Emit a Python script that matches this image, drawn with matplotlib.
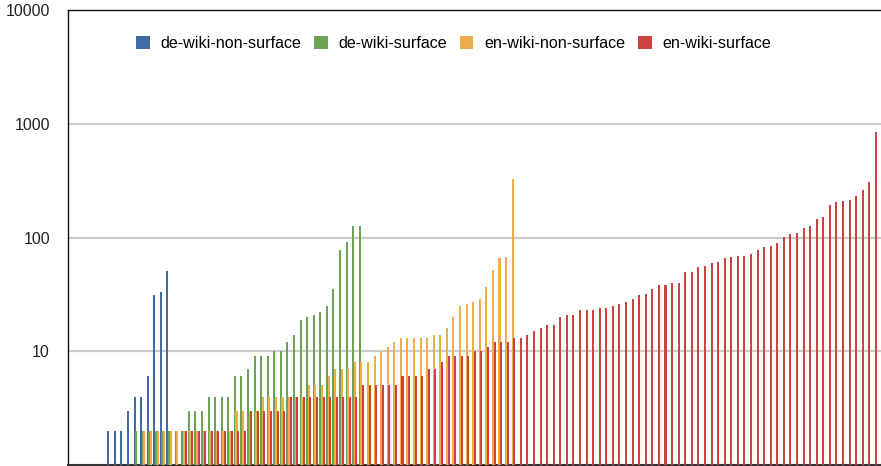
import numpy as np
import matplotlib
matplotlib.use("Agg")
import matplotlib.pyplot as plt
from matplotlib.ticker import FixedLocator, NullLocator, FixedFormatter

series_names = ["de-wiki-non-surface", "de-wiki-surface",
                "en-wiki-non-surface", "en-wiki-surface"]
series_colors = ["#3E6CA3", "#6AA455", "#EEAD48", "#CC423E"]

# Each series: first category index and its sorted values
de_non_surface_start = 6
de_non_surface = [2, 2, 2, 3, 4, 4, 6, 31, 33, 51]

de_surface_start = 10
de_surface = [2, 2, 2, 2, 2, 2, 2, 2, 3, 3, 3, 4, 4, 4, 4, 6, 6, 7, 9, 9,
              9, 10, 10, 12, 14, 19, 20, 21, 22, 25, 35, 78, 92, 127, 127]

en_non_surface_start = 11
en_non_surface = [2, 2, 2, 2, 2, 2, 2, 2, 2, 2, 2, 2, 2, 2, 3, 3, 3, 3,
                  4, 4, 4, 4, 4, 4, 4, 5, 5, 5, 6, 7, 7, 7, 8, 8, 8, 9,
                  10, 11, 12, 13, 13, 13, 13, 13, 14, 14, 16, 20, 25, 26,
                  27, 29, 37, 52, 66, 67, 327]

en_surface_start = 17
en_surface = [2, 2, 2, 2, 2, 2, 2, 2, 2, 2, 3, 3, 3, 3, 3, 3,
              4, 4, 4, 4, 4, 4, 4, 4, 4, 4, 4, 5, 5, 5, 5, 5, 5,
              6, 6, 6, 6, 7, 7, 8, 9, 9, 9, 9, 10, 10, 11, 12, 12, 12,
              13, 13, 14, 15, 16, 17, 17, 20, 21, 21, 23, 23, 23, 24, 24,
              25, 26, 27, 29, 31, 32, 35, 38, 38, 40, 40, 50, 50, 55, 56,
              60, 61, 66, 67, 69, 69, 72, 78, 83, 84, 90, 101, 108, 110,
              121, 127, 146, 152, 194, 206, 210, 214, 232, 262, 308, 849]

y_ticks = [10, 100, 1000, 10000]
y_tick_labels = ["10", "100", "1000", "10000"]

all_series = [
    (de_non_surface_start, de_non_surface),
    (de_surface_start, de_surface),
    (en_non_surface_start, en_non_surface),
    (en_surface_start, en_surface),
]

plt.rcParams["font.family"] = ["Liberation Sans", "DejaVu Sans"]

W, H = 881, 466
fig = plt.figure(figsize=(W / 100, H / 100), dpi=100)
ax = fig.add_axes([68 / W, 1 / H, (W - 68) / W, 455 / H])

slot = 0.25
offsets = [-1.5 * slot, -0.5 * slot, 0.5 * slot, 1.5 * slot]
for (start, vals), name, color, off in zip(all_series, series_names,
                                           series_colors, offsets):
    x = np.arange(start, start + len(vals)) + off
    heights = np.asarray(vals, dtype=float) - 1.0
    ax.bar(x, heights, width=0.31, bottom=1, color=color, label=name,
           linewidth=0, zorder=3, antialiased=False)

ax.set_yscale("log")
ax.set_ylim(1, 10000)
ax.set_xlim(-0.5, -0.5 + (W - 68) / 6.575)

ax.yaxis.set_major_locator(FixedLocator(y_ticks))
ax.yaxis.set_major_formatter(FixedFormatter(y_tick_labels))
ax.yaxis.set_minor_locator(NullLocator())
ax.xaxis.set_major_locator(NullLocator())
ax.xaxis.set_minor_locator(NullLocator())
ax.tick_params(axis="y", length=0, pad=13, labelsize=11.5,
               labelcolor="#222222")

for v in y_ticks[:-1]:
    ax.axhline(v, color="#CCCCCC", linewidth=1.6, zorder=1)

for side in ["left", "top"]:
    ax.spines[side].set_color("#111111")
    ax.spines[side].set_linewidth(1.0)
ax.spines["bottom"].set_color("#333333")
ax.spines["bottom"].set_linewidth(1.5)
ax.spines["right"].set_visible(False)

leg = ax.legend(loc="upper left", bbox_to_anchor=(0.066, 0.975), ncol=4,
                frameon=False, fontsize=11.6, handlelength=0.85,
                handleheight=0.85, handletextpad=0.65, columnspacing=0.8)

fig.savefig("out.png", dpi=100)
